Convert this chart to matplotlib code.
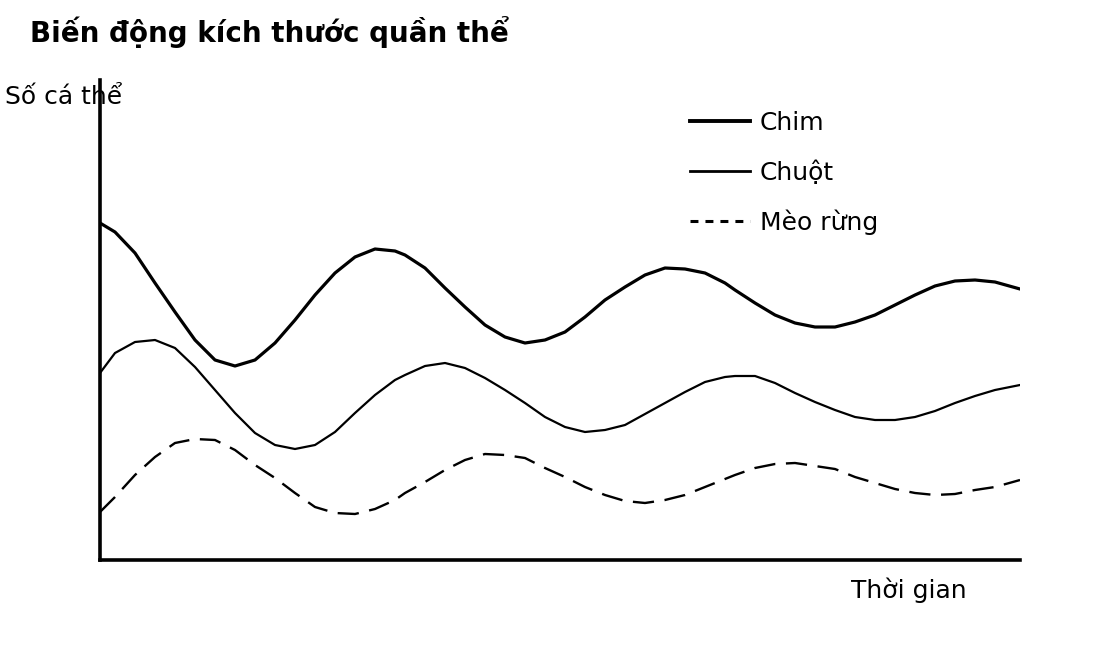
import matplotlib
matplotlib.use("Agg")
import matplotlib.pyplot as plt
from matplotlib.lines import Line2D

# time axis (arbitrary units) and population sizes
time = [0, 15, 35, 55, 75, 95, 115, 135, 155, 175, 195, 215, 235, 255, 275, 295,
        305, 325, 345, 365, 385, 405, 425, 445, 465, 485, 505, 525, 545, 565, 585, 605, 625,
        635, 655, 675, 695, 715, 735, 755, 775, 795, 815, 835, 855, 875, 895, 920]

chim = [337, 328, 307, 277, 248, 220, 200, 194, 200, 217, 240, 265, 287, 303, 311, 309,
        305, 292, 272, 253, 235, 223, 217, 220, 228, 243, 260, 273, 285, 292, 291, 287, 277,
        270, 257, 245, 237, 233, 233, 238, 245, 255, 265, 274, 279, 280, 278, 271]

chuot = [187, 207, 218, 220, 212, 193, 170, 147, 127, 115, 111, 115, 128, 147, 165, 180,
         185, 194, 197, 192, 182, 170, 157, 143, 133, 128, 130, 135, 146, 157, 168, 178, 183,
         184, 184, 177, 167, 158, 150, 143, 140, 140, 143, 149, 157, 164, 170, 175]

meo_rung = [48, 63, 85, 103, 117, 121, 120, 110, 95, 82, 67, 53, 47, 46, 51, 60,
            67, 78, 90, 100, 106, 105, 102, 92, 83, 73, 65, 59, 57, 60, 65, 73, 81,
            85, 92, 96, 97, 94, 91, 83, 77, 71, 67, 65, 66, 70, 73, 80]

labels = ["Chim", "Chuột", "Mèo rừng"]

plt.rcParams["font.family"] = ["DejaVu Sans"]

fig = plt.figure(figsize=(11, 6.5), dpi=100)
ax = fig.add_axes([100 / 1100, 1 - 560 / 650, 920 / 1100, 480 / 650])

ax.plot(time, chim, color="black", lw=2.3, solid_joinstyle="round")
ax.plot(time, chuot, color="black", lw=1.6, solid_joinstyle="round")
ax.plot(time, meo_rung, color="black", lw=1.7, linestyle=(0, (9, 4.5)))

ax.set_xlim(0, 920)
ax.set_ylim(0, 480)
ax.set_xticks([])
ax.set_yticks([])
for side in ["top", "right"]:
    ax.spines[side].set_visible(False)
for side in ["left", "bottom"]:
    ax.spines[side].set_linewidth(2.6)

# legend with its own handles
handles = [
    Line2D([], [], color="black", lw=2.8),
    Line2D([], [], color="black", lw=2.0),
    Line2D([], [], color="black", lw=2.2, linestyle=(0, (2.6, 2.3))),
]
ax.legend(handles, labels, loc="upper left", bbox_to_anchor=(690 / 1100, 1 - 111 / 650),
          bbox_transform=fig.transFigure, frameon=False, fontsize=18,
          handlelength=2.4, handletextpad=0.4, labelspacing=1.0,
          borderpad=0, borderaxespad=0)

fig.text(30 / 1100, 1 - 42 / 650, "Biến động kích thước quần thể",
         fontsize=20, fontweight="bold", va="baseline", ha="left")
fig.text(5 / 1100, 1 - 104 / 650, "Số cá thể", fontsize=18, va="baseline", ha="left")
fig.text(851 / 1100, 1 - 598 / 650, "Thời gian", fontsize=18, va="baseline", ha="left")

fig.savefig("out.png", dpi=100)
